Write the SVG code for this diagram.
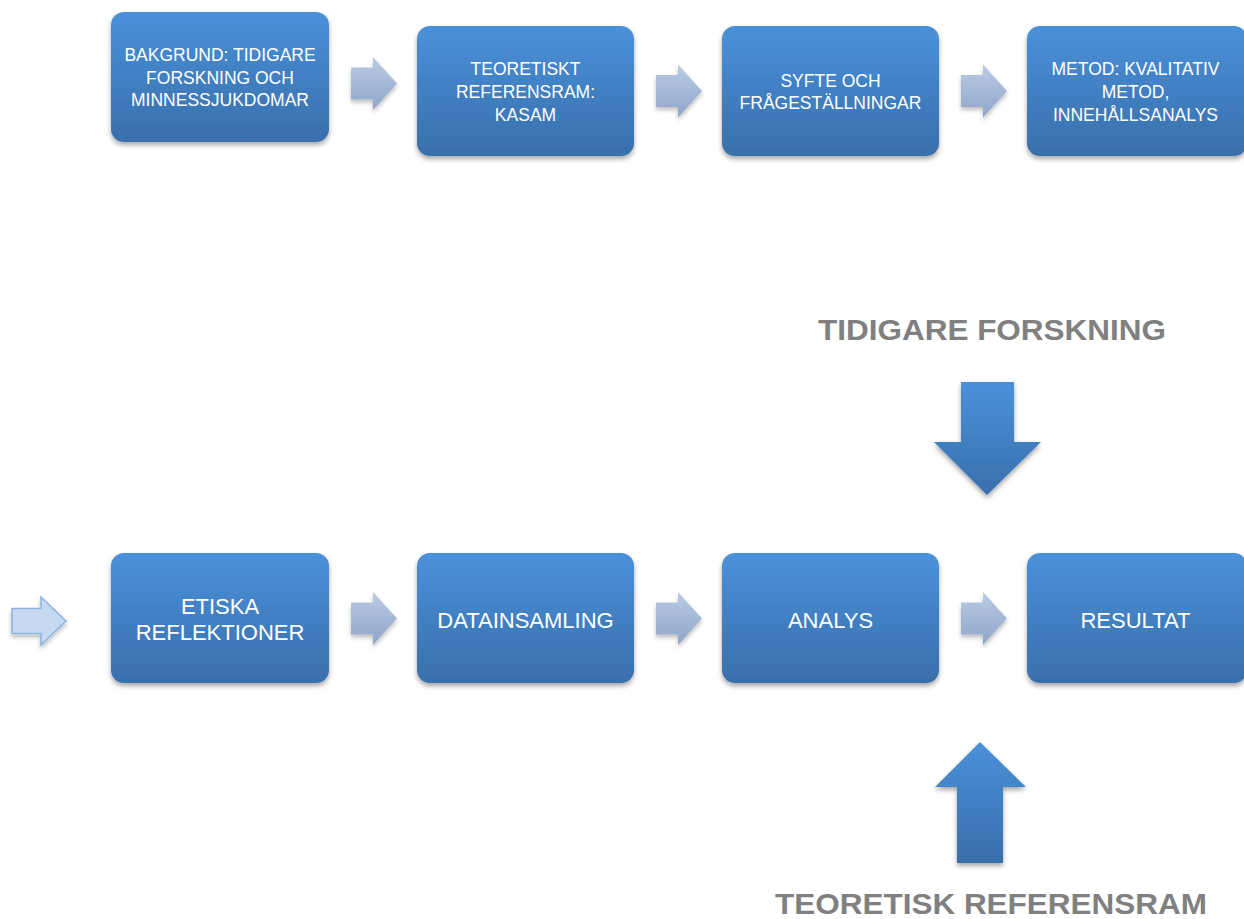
<svg xmlns="http://www.w3.org/2000/svg" xmlns:xlink="http://www.w3.org/1999/xlink" width="1244" height="919" viewBox="0 0 1244 919">
<style>
.box{fill:url(#gBox);filter:url(#sh)}
.t1{font-family:"Liberation Sans",Arial,sans-serif;font-size:17.5px;fill:#ffffff;text-anchor:middle}
.t2{font-family:"Liberation Sans",Arial,sans-serif;font-size:22px;fill:#ffffff;text-anchor:middle}
.hd{font-family:"Liberation Sans",Arial,sans-serif;font-size:30px;font-weight:bold;fill:#808080}
.sa{fill:url(#gSmall);filter:url(#sh2)}
.big{fill:url(#gBox);filter:url(#sh)}
</style>
<defs>
<linearGradient id="gBox" x1="0" y1="0" x2="0" y2="1">
<stop offset="0" stop-color="#4a91da"/>
<stop offset="1" stop-color="#396fab"/>
</linearGradient>
<linearGradient id="gSmall" x1="0" y1="0" x2="0" y2="1">
<stop offset="0" stop-color="#bccbe4"/>
<stop offset="1" stop-color="#8ea5ca"/>
</linearGradient>
<filter id="sh" x="-20%" y="-20%" width="140%" height="150%">
<feGaussianBlur in="SourceAlpha" stdDeviation="2.5"/>
<feOffset dy="3" result="b"/>
<feFlood flood-color="#000" flood-opacity="0.35"/>
<feComposite in2="b" operator="in"/>
<feMerge><feMergeNode/><feMergeNode in="SourceGraphic"/></feMerge>
</filter>
<filter id="sh2" x="-30%" y="-30%" width="160%" height="170%">
<feGaussianBlur in="SourceAlpha" stdDeviation="2"/>
<feOffset dy="3" result="b"/>
<feFlood flood-color="#000" flood-opacity="0.25"/>
<feComposite in2="b" operator="in"/>
<feMerge><feMergeNode/><feMergeNode in="SourceGraphic"/></feMerge>
</filter>
<path id="sarrow" d="M0,-16 H22 V-26.5 L46,0 L22,26.5 V16 H0 Z"/>
</defs>
<rect width="1244" height="919" fill="#ffffff"/>

<g id="connectors">
<use href="#sarrow" class="sa" x="351" y="83.5"/>
<use href="#sarrow" class="sa" x="656" y="91"/>
<use href="#sarrow" class="sa" x="961" y="91"/>
<use href="#sarrow" class="sa" x="351" y="618.5"/>
<use href="#sarrow" class="sa" x="656" y="618.5"/>
<use href="#sarrow" class="sa" x="961" y="618.5"/>
<path d="M12,608.5 H41 V597 L66,621 L41,645 V633.5 H12 Z" fill="#c6d9f1" stroke="#8db3e2" stroke-width="1.5" filter="url(#sh2)"/>
<path class="big" d="M961,382 H1014 V442 H1041 L987,495 L934,442 H961 Z"/>
<path class="big" d="M980,742 L1026,787 H1003 V863 H957 V787 H935 Z"/>
</g>

<g id="n1">
<rect class="box" x="111" y="12" width="218" height="130" rx="13"/>
<text class="t1" x="220" y="61">BAKGRUND: TIDIGARE</text>
<text class="t1" x="220" y="83.5">FORSKNING OCH</text>
<text class="t1" x="220" y="106">MINNESSJUKDOMAR</text>
</g>
<g id="n2">
<rect class="box" x="417" y="26" width="217" height="130" rx="13"/>
<text class="t1" x="525.5" y="75">TEORETISKT</text>
<text class="t1" x="525.5" y="98">REFERENSRAM:</text>
<text class="t1" x="525.5" y="121">KASAM</text>
</g>
<g id="n3">
<rect class="box" x="722" y="26" width="217" height="130" rx="13"/>
<text class="t1" x="830.5" y="86.5">SYFTE OCH</text>
<text class="t1" x="830.5" y="109">FRÅGESTÄLLNINGAR</text>
</g>
<g id="n4">
<rect class="box" x="1027" y="26" width="220" height="130" rx="13"/>
<text class="t1" x="1135.5" y="75">METOD: KVALITATIV</text>
<text class="t1" x="1135.5" y="98">METOD,</text>
<text class="t1" x="1135.5" y="121">INNEHÅLLSANALYS</text>
</g>

<g id="n5">
<rect class="box" x="111" y="553" width="218" height="130" rx="13"/>
<text class="t2" x="220" y="614">ETISKA</text>
<text class="t2" x="220" y="640">REFLEKTIONER</text>
</g>
<g id="n6">
<rect class="box" x="417" y="553" width="217" height="130" rx="13"/>
<text class="t2" x="525.5" y="628">DATAINSAMLING</text>
</g>
<g id="n7">
<rect class="box" x="722" y="553" width="217" height="130" rx="13"/>
<text class="t2" x="830.5" y="628">ANALYS</text>
</g>
<g id="n8">
<rect class="box" x="1027" y="553" width="220" height="130" rx="13"/>
<text class="t2" x="1135.5" y="628">RESULTAT</text>
</g>

<g id="label-top">
<text class="hd" x="818" y="340" textLength="348" lengthAdjust="spacingAndGlyphs">TIDIGARE FORSKNING</text>
</g>
<g id="label-bottom">
<text class="hd" x="775" y="914" textLength="432" lengthAdjust="spacingAndGlyphs">TEORETISK REFERENSRAM</text>
</g>
</svg>
